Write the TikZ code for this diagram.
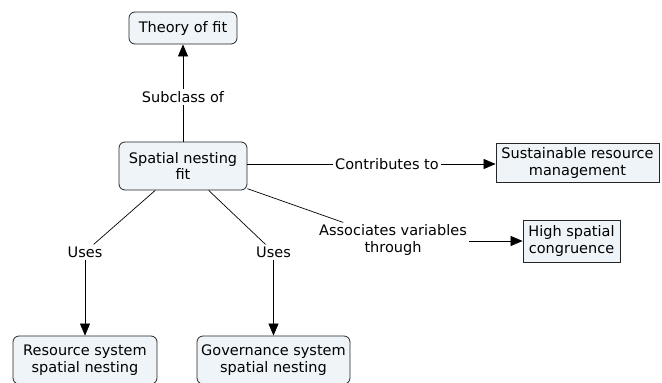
\documentclass[tikz,border=0pt]{standalone}
\usepackage{fontspec}
\setmainfont{DejaVu Sans}
\usetikzlibrary{arrows.meta}
\definecolor{boxfill}{HTML}{EEF4F8}
\begin{document}
\begin{tikzpicture}[x=1pt,y=-1pt,
  font=\fontsize{14.5}{16.7}\selectfont,
  concept/.style={draw=black!85,line width=0.8pt,fill=boxfill,rounded corners=6pt,align=center,inner sep=0pt},
  sqconcept/.style={draw=black!85,line width=0.8pt,fill=boxfill,align=center,inner sep=0pt},
  lab/.style={align=center,inner sep=2pt,fill=white},
  link/.style={line width=0.7pt},
  arr/.style={line width=0.7pt,-{Triangle[length=12pt,width=10pt]}}]
\useasboundingbox (0,0) rectangle (662,383);
\node[concept,minimum width=108pt,minimum height=32pt] (theory) at (183,28) {Theory of fit};
\node[concept,minimum width=128pt,minimum height=48pt] (snf) at (183,166) {Spatial nesting\\fit};
\node[sqconcept,minimum width=163pt,minimum height=39pt] (sus) at (577.5,163) {Sustainable resource\\management};
\node[sqconcept,minimum width=97pt,minimum height=42pt] (high) at (571.5,241) {High spatial\\congruence};
\node[concept,minimum width=144pt,minimum height=48pt] (res) at (85,360) {Resource system\\spatial nesting};
\node[concept,minimum width=153pt,minimum height=48pt] (gov) at (273.5,360) {Governance system\\spatial nesting};

\node[lab] (l1) at (183,97) {Subclass of};
\node[lab] (l2) at (387,164) {Contributes to};
\node[lab] (l3) at (393,240) {Associates variables\\through};
\node[lab] (l4) at (85,252) {Uses};
\node[lab] (l5) at (273.5,252) {Uses};

\draw[link] (snf) -- (l1);
\draw[arr] (l1) -- (theory);
\draw[link] (snf.east |- l2) -- (l2);
\draw[arr] (l2) -- (sus.west |- l2);
\draw[link] (snf) -- (l3);
\draw[arr] (l3.east |- high) -- (high);
\draw[link] (snf) -- (l4);
\draw[arr] (l4) -- (res);
\draw[link] (snf) -- (l5);
\draw[arr] (l5) -- (gov);
\end{tikzpicture}
\end{document}
